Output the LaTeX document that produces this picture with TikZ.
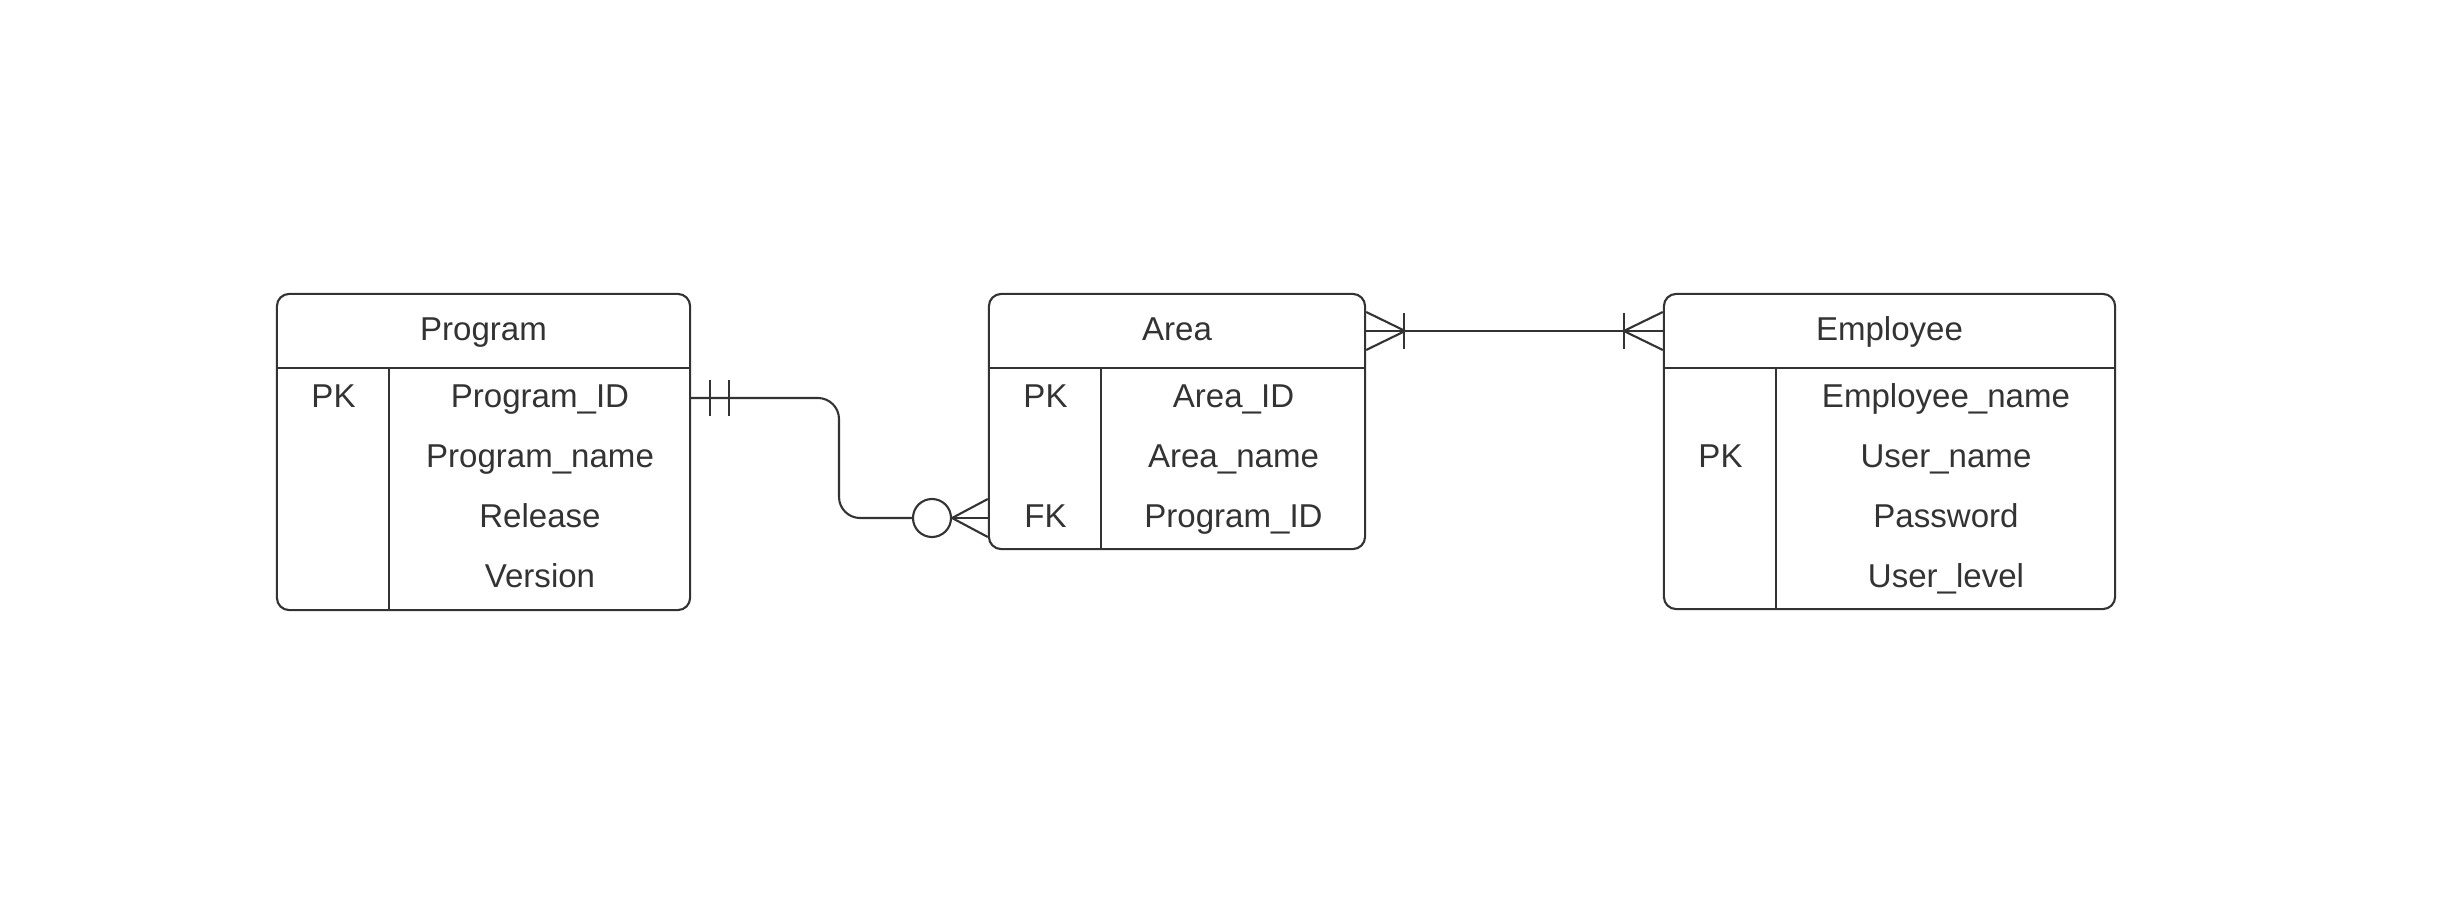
\documentclass[tikz,border=0pt]{standalone}
\usepackage{fontspec}
\setmainfont{Liberation Sans}
\definecolor{erline}{HTML}{333333}
\definecolor{ertext}{HTML}{333333}
\tikzset{
  entity/.style={draw=erline, line width=0.6pt, rounded corners=3.5pt, inner sep=0pt},
  field/.style={text=ertext, inner sep=0pt, text height=0.75em, text depth=0.2em},
  rel/.style={draw=erline, line width=0.6pt},
}

\begin{document}
\begin{tikzpicture}[x=0.01cm,y=-0.01cm,font=\fontsize{9.4}{11}\selectfont]
    \useasboundingbox (0,0) rectangle (2462,909);

    % entities
    \node[entity, minimum width=4.13cm, minimum height=3.16cm] (program) at (483.5,452) {};
    \node[entity, minimum width=3.76cm, minimum height=2.55cm] (area) at (1177,421.5) {};
    \node[entity, minimum width=4.51cm, minimum height=3.15cm] (employee) at (1889.5,451.5) {};

    \foreach \e in {program,area,employee} {
      \draw[erline, line width=0.4pt] ([yshift=-0.75cm]\e.north west) -- ([yshift=-0.75cm]\e.north east);
      \draw[rel] ([xshift=1.13cm,yshift=-0.75cm]\e.north west) -- ([xshift=1.13cm]\e.south west);
    }

    % titles
    \node[field] (pgtitle) at (483.5,331) {Program};
    \node[field] (artitle) at (1177,331) {Area};
    \node[field] (emtitle) at (1889.5,331) {Employee};

    % fields
    \node[field] (pgpk) at (333.5,398) {PK};
    \foreach \y/\txt/\nm in {398/Program\_ID/pgid,458/Program\_name/pgname,518/Release/pgrel,578/Version/pgver}
      \node[field] (\nm) at (540,\y) {\txt};

    \node[field] (arpk) at (1045.5,398) {PK};
    \node[field] (arfkkey) at (1045.5,518) {FK};
    \foreach \y/\txt/\nm in {398/Area\_ID/arid,458/Area\_name/arname,518/Program\_ID/arfk}
      \node[field] (\nm) at (1233.5,\y) {\txt};

    \node[field] (empk) at (1720.5,458) {PK};
    \foreach \y/\txt/\nm in {398/Employee\_name/emname,458/User\_name/emuser,518/Password/empass,578/User\_level/emlevel}
      \node[field] (\nm) at (1946,\y) {\txt};

    % Program -- Area
    \coordinate (bend) at (839,398);
    \node[circle, draw=erline, line width=0.6pt, minimum size=0.38cm, inner sep=0pt] (zero) at (932,518) {};
    \draw[rel, rounded corners=6pt] (program.east |- pgid) -| (bend |- zero) -- (zero);
    \draw[rel] (program.east |- pgid) ++(19,-18) -- ++(0,36);
    \draw[rel] (program.east |- pgid) ++(38,-18) -- ++(0,36);
    \draw[rel] ([yshift=0.19cm]area.west |- arfk) -- (zero.east) -- ([yshift=-0.19cm]area.west |- arfk);
    \draw[rel] (zero.east) -- (area.west |- arfk);

    % Area -- Employee
    \draw[rel] (area.east |- artitle) -- (employee.west |- emtitle);
    \draw[rel] ([yshift=0.19cm]area.east |- artitle) -- ++(39,19) -- ++(-39,19);
    \draw[rel] (area.east |- artitle) ++(38,-18) -- ++(0,36);
    \draw[rel] ([yshift=0.19cm]employee.west |- emtitle) -- ++(-39,19) -- ++(39,19);
    \draw[rel] (employee.west |- emtitle) ++(-39,-18) -- ++(0,36);
\end{tikzpicture}
\end{document}
